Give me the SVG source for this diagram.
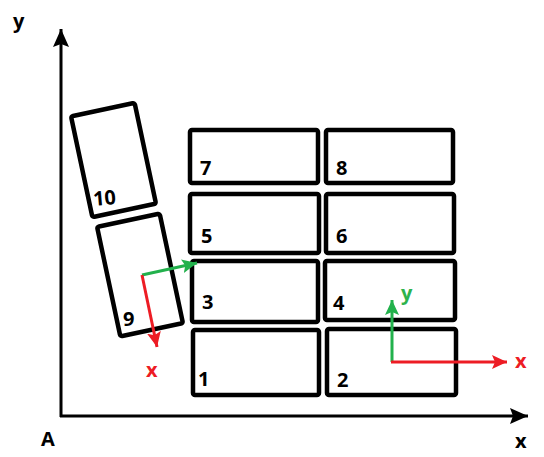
<svg xmlns="http://www.w3.org/2000/svg" width="544" height="457" viewBox="0 0 544 457">
<style>
.box{fill:none;stroke:#000;stroke-width:4.5;stroke-linejoin:round}
.lbl{font-family:"Open Sans","Noto Sans",sans-serif;font-weight:bold;font-size:20px;fill:#000}
.ax{stroke:#000;stroke-width:3;fill:none}
.g{stroke:#22b14c;stroke-width:3;fill:none}
.r{stroke:#ed1c24;stroke-width:3;fill:none}
</style>
<defs>
<marker id="ab" markerUnits="userSpaceOnUse" markerWidth="20" markerHeight="16" refX="18" refY="8" orient="auto"><path d="M0,0 L18,8 L0,16 L3,8 z" fill="#000"/></marker>
<marker id="ag" markerUnits="userSpaceOnUse" markerWidth="16" markerHeight="14" refX="15" refY="7" orient="auto"><path d="M0,0 L15,7 L0,14 L3,7 z" fill="#22b14c"/></marker>
<marker id="ar" markerUnits="userSpaceOnUse" markerWidth="16" markerHeight="14" refX="15" refY="7" orient="auto"><path d="M0,0 L15,7 L0,14 L3,7 z" fill="#ed1c24"/></marker>
</defs>
<g id="axes">
<line class="ax" x1="61" y1="417" x2="61" y2="29" marker-end="url(#ab)"/>
<line class="ax" x1="60" y1="416" x2="528" y2="416" marker-end="url(#ab)"/>
<text class="lbl" x="13" y="28">y</text>
<text class="lbl" x="41" y="446">A</text>
<text class="lbl" x="515" y="448">x</text>
</g>
<g id="n1"><rect class="box" x="193" y="330" width="126" height="65" rx="2"/><text class="lbl" x="198" y="386">1</text></g>
<g id="n2"><rect class="box" x="327" y="329" width="129" height="66" rx="2"/><text class="lbl" x="337" y="387">2</text></g>
<g id="n3"><rect class="box" x="192" y="261" width="126" height="61" rx="2"/><text class="lbl" x="202" y="309">3</text></g>
<g id="n4"><rect class="box" x="325" y="261" width="130" height="59" rx="2"/><text class="lbl" x="333" y="310">4</text></g>
<g id="n5"><rect class="box" x="190" y="194" width="129" height="59" rx="2"/><text class="lbl" x="201" y="243">5</text></g>
<g id="n6"><rect class="box" x="326" y="194" width="128" height="59" rx="2"/><text class="lbl" x="336" y="243">6</text></g>
<g id="n7"><rect class="box" x="190" y="130" width="128" height="53" rx="2"/><text class="lbl" x="200" y="175">7</text></g>
<g id="n8"><rect class="box" x="326" y="130" width="127" height="53" rx="2"/><text class="lbl" x="336" y="175">8</text></g>
<g id="n10"><rect class="box" x="81" y="108.5" width="65" height="103" rx="2" transform="rotate(-12 113.5 160)"/><text class="lbl" x="93" y="205" transform="rotate(-5 105 198)">10</text></g>
<g id="n9"><rect class="box" x="108" y="219" width="64" height="112" rx="2" transform="rotate(-12 140 275)"/><text class="lbl" x="123" y="326">9</text></g>
<g id="connectors">
<line class="g" x1="142" y1="275" x2="197" y2="263" marker-end="url(#ag)"/>
<line class="r" x1="142" y1="275" x2="157" y2="347" marker-end="url(#ar)"/>
<line class="g" x1="392" y1="362" x2="392" y2="300" marker-end="url(#ag)"/>
<line class="r" x1="391" y1="362" x2="507" y2="362" marker-end="url(#ar)"/>
</g>
<text class="lbl" x="146" y="377" style="fill:#ed1c24">x</text>
<text class="lbl" x="401" y="300" style="fill:#2eb34c">y</text>
<text class="lbl" x="515" y="368" style="fill:#ed1c24">x</text>
</svg>
